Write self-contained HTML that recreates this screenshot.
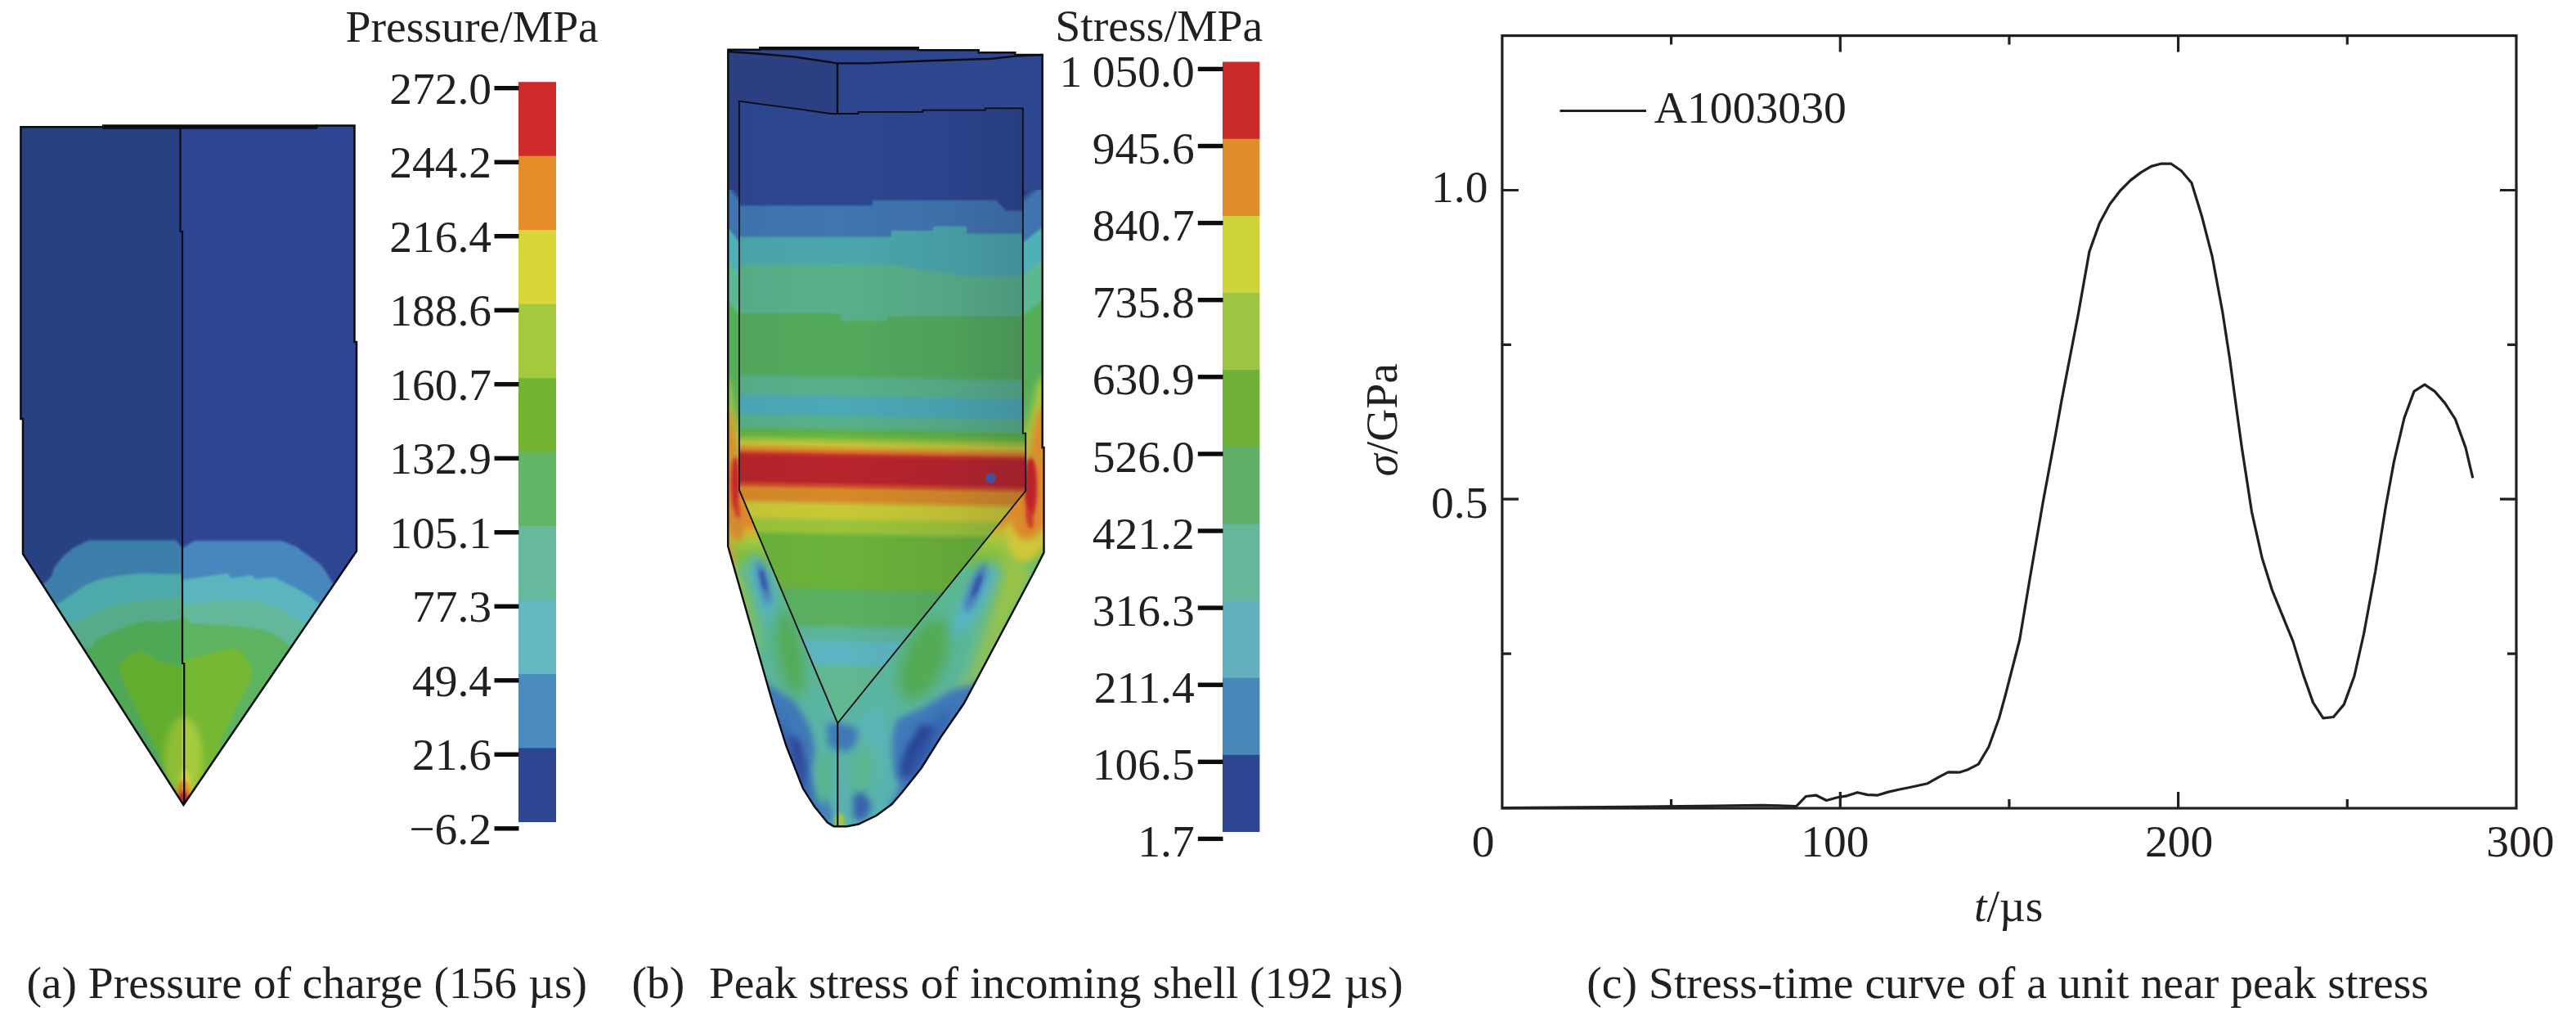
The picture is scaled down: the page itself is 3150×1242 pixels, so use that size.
<!DOCTYPE html>
<html lang="en">
<head>
<meta charset="utf-8">
<title>Pressure and stress simulation figure</title>
<style>
html,body{margin:0;padding:0;background:#fff;}
body{width:3150px;height:1242px;overflow:hidden;}
svg{display:block;position:absolute;left:0;top:0;}
text{font-family:"Liberation Serif",serif;font-size:55.5px;fill:#231f20;}
.it{font-style:italic;}
</style>
</head>
<body>
<svg width="3150" height="1242" viewBox="0 0 3150 1242">
<rect x="0" y="0" width="3150" height="1242" fill="#ffffff"/>
<defs>
<clipPath id="clipA"><polygon points="25.4,155.3 387.5,155.3 387.5,153.4 433.5,153.4 433.5,418.0 436.0,418.0 436.0,673.7 224.4,984.0 28.0,677.2 28.0,512.0 25.4,512.0"/></clipPath>
<clipPath id="clipAL"><rect x="0" y="140" width="222" height="860"/></clipPath>
<clipPath id="clipAR"><rect x="222" y="140" width="240" height="860"/></clipPath>
<filter id="blA1" x="-20%" y="-20%" width="140%" height="140%"><feGaussianBlur stdDeviation="1.6"/></filter>
<filter id="blA3" x="-50%" y="-50%" width="200%" height="200%"><feGaussianBlur stdDeviation="4"/></filter>
<filter id="blA2" x="-50%" y="-50%" width="200%" height="200%"><feGaussianBlur stdDeviation="2.2"/></filter>
</defs>
<g id="figA">
<g clip-path="url(#clipA)">
<g clip-path="url(#clipAR)">
<rect x="0" y="140" width="460" height="860" fill="#2e4592"/>
<g filter="url(#blA1)">
<polygon points="53.8,713.4 63.4,703.8 66.0,694.0 78.0,679.0 90.9,669.0 108.6,660.4 214.9,660.4 221.0,667.0 223.0,670.0 237.7,661.0 344.0,661.0 361.7,668.0 380.0,681.0 392.0,690.0 398.9,699.6 407.1,713.4 437.1,713.4 437.1,1000.0 23.8,1000.0 23.8,713.4" fill="#4687be"/>
<polygon points="72.4,738.0 85.5,728.0 106.0,714.8 122.7,707.9 144.7,703.8 171.0,701.0 221.0,702.0 223.0,709.0 278.5,701.0 282.0,707.0 307.9,703.0 312.0,707.9 335.5,705.5 345.1,710.7 358.9,717.6 378.2,728.6 389.2,738.0 419.2,738.0 419.2,1000.0 42.4,1000.0 42.4,738.0" fill="#5ab5bf"/>
<polygon points="86.9,762.5 102.0,754.8 122.7,745.0 150.0,738.0 177.8,734.0 221.0,728.6 223.0,739.0 273.0,734.0 303.8,734.0 324.4,736.9 345.1,745.1 358.9,753.4 372.7,762.5 402.7,762.5 402.7,1000.0 56.9,1000.0 56.9,762.5" fill="#64b79a"/>
<polygon points="110.3,792.0 117.2,782.3 136.5,772.7 157.0,764.4 177.8,758.9 197.0,760.0 221.0,757.0 223.0,750.0 232.4,762.0 273.0,764.0 303.8,767.2 321.7,769.9 335.5,775.4 345.1,782.3 354.8,790.0 384.8,790.0 384.8,1000.0 80.3,1000.0 80.3,792.0" fill="#5db360"/>
<polygon points="192.5,918.0 174.8,884.6 159.0,851.0 149.2,829.5 145.0,812.0 158.0,802.0 172.3,795.9 186.0,802.0 197.0,810.0 222.0,815.0 224.0,806.5 255.4,799.4 285.5,792.0 298.0,800.0 305.0,810.0 308.7,819.7 304.7,835.4 289.0,865.0 281.0,882.7 273.2,898.4 267.3,918.0 224.4,990.0" fill="#74b832"/>
</g>
<ellipse cx="224.5" cy="928" rx="23" ry="52" fill="#a6ca3c" filter="url(#blA3)"/>
<ellipse cx="225.5" cy="960" rx="8.5" ry="20" fill="#cfd03a" filter="url(#blA2)"/>
<ellipse cx="224.5" cy="969" rx="8.5" ry="15" fill="#e38a2a" filter="url(#blA2)"/>
<ellipse cx="224.5" cy="978" rx="6" ry="11" fill="#c4232a" filter="url(#blA2)"/>
</g>
<g clip-path="url(#clipAL)">
<rect x="0" y="140" width="460" height="860" fill="#284183"/>
<g filter="url(#blA1)">
<polygon points="53.8,713.4 63.4,703.8 66.0,694.0 78.0,679.0 90.9,669.0 108.6,660.4 214.9,660.4 221.0,667.0 223.0,670.0 237.7,661.0 344.0,661.0 361.7,668.0 380.0,681.0 392.0,690.0 398.9,699.6 407.1,713.4 437.1,713.4 437.1,1000.0 23.8,1000.0 23.8,713.4" fill="#3c7faa"/>
<polygon points="72.4,738.0 85.5,728.0 106.0,714.8 122.7,707.9 144.7,703.8 171.0,701.0 221.0,702.0 223.0,709.0 278.5,701.0 282.0,707.0 307.9,703.0 312.0,707.9 335.5,705.5 345.1,710.7 358.9,717.6 378.2,728.6 389.2,738.0 419.2,738.0 419.2,1000.0 42.4,1000.0 42.4,738.0" fill="#4daaab"/>
<polygon points="86.9,762.5 102.0,754.8 122.7,745.0 150.0,738.0 177.8,734.0 221.0,728.6 223.0,739.0 273.0,734.0 303.8,734.0 324.4,736.9 345.1,745.1 358.9,753.4 372.7,762.5 402.7,762.5 402.7,1000.0 56.9,1000.0 56.9,762.5" fill="#56ac8a"/>
<polygon points="110.3,792.0 117.2,782.3 136.5,772.7 157.0,764.4 177.8,758.9 197.0,760.0 221.0,757.0 223.0,750.0 232.4,762.0 273.0,764.0 303.8,767.2 321.7,769.9 335.5,775.4 345.1,782.3 354.8,790.0 384.8,790.0 384.8,1000.0 80.3,1000.0 80.3,792.0" fill="#50a856"/>
<polygon points="192.5,918.0 174.8,884.6 159.0,851.0 149.2,829.5 145.0,812.0 158.0,802.0 172.3,795.9 186.0,802.0 197.0,810.0 222.0,815.0 224.0,806.5 255.4,799.4 285.5,792.0 298.0,800.0 305.0,810.0 308.7,819.7 304.7,835.4 289.0,865.0 281.0,882.7 273.2,898.4 267.3,918.0 224.4,990.0" fill="#64ad2d"/>
</g>
<ellipse cx="224.5" cy="928" rx="23" ry="52" fill="#8fbe36" filter="url(#blA3)"/>
<ellipse cx="225.5" cy="960" rx="8.5" ry="20" fill="#b2c434" filter="url(#blA2)"/>
<ellipse cx="224.5" cy="969" rx="8.5" ry="15" fill="#c38226" filter="url(#blA2)"/>
<ellipse cx="224.5" cy="978" rx="6" ry="11" fill="#a92126" filter="url(#blA2)"/>
</g>
</g>
<polygon points="25.4,155.3 387.5,155.3 387.5,153.4 433.5,153.4 433.5,418.0 436.0,418.0 436.0,673.7 224.4,984.0 28.0,677.2 28.0,512.0 25.4,512.0" fill="none" stroke="#0b0b12" stroke-width="2.5" stroke-linejoin="miter"/>
<path d="M125 155H388" stroke="#0b0b12" stroke-width="5.4" fill="none"/>
<path d="M220.5 154V283H223V811H225.2V983" stroke="#0b0b12" stroke-width="2.2" fill="none"/>
</g>
<defs>
<clipPath id="clipB"><polygon points="890.3,60.7 929.3,60.7 929.3,58.3 1122.7,58.3 1122.7,61.2 1196.7,61.2 1196.7,64.2 1241.3,64.2 1241.3,67.0 1274.7,67.0 1274.7,547.0 1276.5,547.0 1276.5,675.5 1264.0,700.0 1178.7,860.0 1150.4,901.0 1126.8,938.7 1103.2,968.6 1090.6,983.0 1071.7,997.0 1049.6,1007.5 1035.5,1010.3 1019.7,1010.3 1011.9,1005.6 996.0,986.0 982.0,963.9 961.5,912.0 945.0,860.0 890.2,667.8"/></clipPath>
<clipPath id="clipBin"><polygon points="903.9,123.6 929.3,127.2 975.5,133.1 1015.3,139.0 1049.5,139.0 1049.5,136.8 1128.3,136.8 1128.3,134.7 1204.7,134.7 1204.7,132.3 1250.8,132.3 1250.8,529.6 1254.2,529.6 1254.2,600.0 1024.3,884.0 903.9,598.7"/></clipPath>
<linearGradient id="gBody" gradientUnits="userSpaceOnUse" x1="1079" y1="120" x2="1064.22" y2="889.72">
<stop offset="0.0000" stop-color="#2c4690"/><stop offset="0.4156" stop-color="#2c4690"/><stop offset="0.4156" stop-color="#52aa5c"/><stop offset="0.4390" stop-color="#52aa5c"/><stop offset="0.4481" stop-color="#58b08a"/><stop offset="0.4701" stop-color="#58b08a"/><stop offset="0.4779" stop-color="#4ba9b5"/><stop offset="0.5026" stop-color="#4ba9b5"/><stop offset="0.5104" stop-color="#58b08a"/><stop offset="0.5234" stop-color="#58b08a"/><stop offset="0.5312" stop-color="#5bb04a"/><stop offset="0.5390" stop-color="#6fb63e"/><stop offset="0.5455" stop-color="#9cc23c"/><stop offset="0.5519" stop-color="#c4c438"/><stop offset="0.5584" stop-color="#d99a2e"/><stop offset="0.5636" stop-color="#d4702a"/><stop offset="0.5688" stop-color="#c4302a"/><stop offset="0.5740" stop-color="#b8242c"/><stop offset="0.6104" stop-color="#b8242c"/><stop offset="0.6169" stop-color="#cc4a2a"/><stop offset="0.6234" stop-color="#d68a28"/><stop offset="0.6390" stop-color="#d68a28"/><stop offset="0.6494" stop-color="#c9c935"/><stop offset="0.6649" stop-color="#c9c935"/><stop offset="0.6753" stop-color="#9cc43a"/><stop offset="0.6883" stop-color="#9cc43a"/><stop offset="0.6987" stop-color="#6bb23a"/><stop offset="0.7766" stop-color="#6bb23a"/><stop offset="0.7857" stop-color="#5ab060"/><stop offset="0.8351" stop-color="#5ab060"/><stop offset="0.8455" stop-color="#5cb59a"/><stop offset="0.8584" stop-color="#5cb59a"/><stop offset="0.8675" stop-color="#5cb5c0"/><stop offset="0.8974" stop-color="#5cb5c0"/><stop offset="0.9078" stop-color="#62b890"/><stop offset="1.0000" stop-color="#62b890"/>
</linearGradient>
<linearGradient id="gShell" gradientUnits="userSpaceOnUse" x1="1079" y1="55" x2="1079.00" y2="1020.00">
<stop offset="0.0000" stop-color="#2c4285"/><stop offset="0.1813" stop-color="#2c4285"/><stop offset="0.1917" stop-color="#3f74b0"/><stop offset="0.2373" stop-color="#3f74b0"/><stop offset="0.2435" stop-color="#4fb0b8"/><stop offset="0.2788" stop-color="#4fb0b8"/><stop offset="0.2850" stop-color="#5cb890"/><stop offset="0.3285" stop-color="#5cb890"/><stop offset="0.3368" stop-color="#55ad58"/><stop offset="0.4301" stop-color="#55ad58"/><stop offset="0.4611" stop-color="#60b060"/><stop offset="0.4870" stop-color="#8fc040"/><stop offset="0.5026" stop-color="#c8b838"/><stop offset="0.5130" stop-color="#dc8a2c"/><stop offset="0.6062" stop-color="#dc8a2c"/><stop offset="0.6166" stop-color="#d8b030"/><stop offset="0.6269" stop-color="#a8c83c"/><stop offset="0.6477" stop-color="#7cbc44"/><stop offset="0.6684" stop-color="#5cb890"/><stop offset="1.0000" stop-color="#58b2b4"/>
</linearGradient>
<linearGradient id="gShellL" gradientUnits="userSpaceOnUse" x1="897" y1="55" x2="428.83" y2="420.77">
<stop offset="0.0000" stop-color="#2c4285"/><stop offset="0.1813" stop-color="#2c4285"/><stop offset="0.1917" stop-color="#3f74b0"/><stop offset="0.2373" stop-color="#3f74b0"/><stop offset="0.2435" stop-color="#4fb0b8"/><stop offset="0.2788" stop-color="#4fb0b8"/><stop offset="0.2850" stop-color="#5cb890"/><stop offset="0.3285" stop-color="#5cb890"/><stop offset="0.3368" stop-color="#55ad58"/><stop offset="0.4301" stop-color="#55ad58"/><stop offset="0.4611" stop-color="#60b060"/><stop offset="0.4870" stop-color="#8fc040"/><stop offset="0.5026" stop-color="#c8b838"/><stop offset="0.5130" stop-color="#dc8a2c"/><stop offset="0.6062" stop-color="#dc8a2c"/><stop offset="0.6166" stop-color="#d8b030"/><stop offset="0.6269" stop-color="#a8c83c"/><stop offset="0.6477" stop-color="#7cbc44"/><stop offset="0.6684" stop-color="#5cb890"/><stop offset="1.0000" stop-color="#58b2b4"/>
</linearGradient>
<linearGradient id="gShellR" gradientUnits="userSpaceOnUse" x1="1263" y1="55" x2="1731.17" y2="654.23">
<stop offset="0.0000" stop-color="#2c4285"/><stop offset="0.1813" stop-color="#2c4285"/><stop offset="0.1917" stop-color="#3f74b0"/><stop offset="0.2373" stop-color="#3f74b0"/><stop offset="0.2435" stop-color="#4fb0b8"/><stop offset="0.2788" stop-color="#4fb0b8"/><stop offset="0.2850" stop-color="#5cb890"/><stop offset="0.3285" stop-color="#5cb890"/><stop offset="0.3368" stop-color="#55ad58"/><stop offset="0.4301" stop-color="#55ad58"/><stop offset="0.4611" stop-color="#60b060"/><stop offset="0.4870" stop-color="#8fc040"/><stop offset="0.5026" stop-color="#c8b838"/><stop offset="0.5130" stop-color="#dc8a2c"/><stop offset="0.6062" stop-color="#dc8a2c"/><stop offset="0.6166" stop-color="#d8b030"/><stop offset="0.6269" stop-color="#a8c83c"/><stop offset="0.6477" stop-color="#7cbc44"/><stop offset="0.6684" stop-color="#5cb890"/><stop offset="1.0000" stop-color="#58b2b4"/>
</linearGradient>
<linearGradient id="gShade" gradientUnits="userSpaceOnUse" x1="904" y1="0" x2="1254" y2="0"><stop offset="0" stop-color="#101030" stop-opacity="0.03"/><stop offset="0.35" stop-color="#101030" stop-opacity="0"/><stop offset="0.75" stop-color="#101030" stop-opacity="0.07"/><stop offset="1" stop-color="#101030" stop-opacity="0.16"/></linearGradient>
<filter id="blB1" x="-60%" y="-60%" width="220%" height="220%"><feGaussianBlur stdDeviation="1.2"/></filter>
<filter id="blB2" x="-60%" y="-60%" width="220%" height="220%"><feGaussianBlur stdDeviation="2"/></filter>
<filter id="blB4" x="-60%" y="-60%" width="220%" height="220%"><feGaussianBlur stdDeviation="4"/></filter>
<filter id="blB6" x="-60%" y="-60%" width="220%" height="220%"><feGaussianBlur stdDeviation="6"/></filter>
<filter id="blB9" x="-60%" y="-60%" width="220%" height="220%"><feGaussianBlur stdDeviation="9"/></filter>
<filter id="blB14" x="-60%" y="-60%" width="220%" height="220%"><feGaussianBlur stdDeviation="14"/></filter>
</defs>
<g id="figB">
<g clip-path="url(#clipB)">
<rect x="880" y="50" width="410" height="970" fill="url(#gShell)"/>
<rect x="880" y="140" width="25" height="512" fill="url(#gShellL)"/>
<rect x="1249" y="140" width="40" height="545" fill="url(#gShellR)"/>
<polygon points="885.0,50.0 1285.0,50.0 1274.7,67.0 1241.0,68.6 1212.6,71.8 1136.2,74.2 1059.8,77.4 1024.0,77.4 1013.7,75.8 970.7,69.4 926.0,65.5 890.3,63.0" fill="#2d4690"/>
<polygon points="890.3,63.0 926.0,65.5 970.7,69.4 1013.7,75.8 1024.0,77.4 1024.0,139.5 1015.3,139.0 975.5,133.1 929.3,127.2 903.9,123.6 903.9,232.0 890.0,232.0" fill="#2c3f80"/>
<polygon points="1024.0,77.4 1059.8,77.4 1136.2,74.2 1212.6,71.8 1241.0,68.6 1274.7,67.0 1276.0,232.0 1250.8,232.0 1250.8,132.3 1204.7,132.3 1204.7,134.7 1128.3,134.7 1128.3,136.8 1049.5,136.8 1049.5,139.0 1015.3,139.0 1024.0,139.5" fill="#2d4690"/>
<g id="shellPatches">
<ellipse cx="905" cy="745" rx="12" ry="60" transform="rotate(-16 905 745)" fill="#8cc048" opacity="1" filter="url(#blB9)"/>
<ellipse cx="893" cy="705" rx="7" ry="45" transform="rotate(-16 893 705)" fill="#b4c83c" opacity="1" filter="url(#blB6)"/>
<ellipse cx="891" cy="676" rx="6" ry="20" transform="rotate(-10 891 676)" fill="#d89a30" opacity="1" filter="url(#blB4)"/>
<ellipse cx="936" cy="726" rx="10" ry="52" transform="rotate(-18 936 726)" fill="#58b4c4" opacity="1" filter="url(#blB6)"/>
<ellipse cx="934" cy="713" rx="5.5" ry="28" transform="rotate(-14 934 713)" fill="#4576bc" opacity="1" filter="url(#blB4)"/>
<ellipse cx="933.5" cy="709" rx="2.6" ry="14" transform="rotate(-14 933.5 709)" fill="#3450a4" opacity="1" filter="url(#blB2)"/>
<ellipse cx="966" cy="798" rx="15" ry="56" transform="rotate(-10 966 798)" fill="#52aa52" opacity="1" filter="url(#blB9)"/>
<polygon points="925.0,830.0 938.5,837.0 951.0,844.0 972.0,858.0 990.0,887.0 997.0,915.0 993.0,943.0 1000.0,972.0 1011.0,997.0 1016.0,1015.0 940.0,1015.0" fill="#3f78b8" opacity="1" filter="url(#blB4)"/>
<polygon points="962.0,896.0 979.0,906.0 986.0,936.0 984.0,958.0 978.0,962.0 970.0,936.0" fill="#2e469a" opacity="1" filter="url(#blB4)"/>
<polygon points="940.0,870.0 955.0,880.0 975.0,930.0 990.0,975.0 975.0,975.0" fill="#325aa8" opacity="0.7" filter="url(#blB6)"/>
<polygon points="1280.0,452.0 1280.0,560.0 1254.0,560.0 1257.0,530.0 1262.0,500.0 1268.0,470.0" fill="#a8c83c" opacity="1" filter="url(#blB4)"/>
<polygon points="1280.0,490.0 1280.0,560.0 1258.0,560.0 1262.0,535.0 1268.0,505.0" fill="#dc8a2c" opacity="1" filter="url(#blB4)"/>
<polygon points="886.0,452.0 886.0,560.0 906.0,560.0 902.0,530.0 897.0,500.0 893.0,470.0" fill="#a8c83c" opacity="1" filter="url(#blB4)"/>
<polygon points="886.0,495.0 886.0,560.0 903.0,560.0 899.0,535.0 894.0,505.0" fill="#dc8a2c" opacity="1" filter="url(#blB4)"/>
<ellipse cx="899" cy="642" rx="9" ry="20" transform="rotate(-14 899 642)" fill="#d08a30" opacity="1" filter="url(#blB4)"/>
<ellipse cx="899" cy="590" rx="5" ry="32" transform="rotate(0 899 590)" fill="#c4282c" opacity="1" filter="url(#blB2)"/>
<ellipse cx="901" cy="622" rx="3.5" ry="12" transform="rotate(-10 901 622)" fill="#c83a2c" opacity="1" filter="url(#blB2)"/>
<polygon points="1266.0,700.0 1248.0,735.0 1228.0,775.0 1204.0,822.0 1184.0,860.0 1172.0,856.0 1190.0,815.0 1208.0,765.0 1226.0,700.0 1222.0,655.0 1236.0,640.0 1250.0,690.0" fill="#9cc444" opacity="1" filter="url(#blB9)"/>
<polygon points="1280.0,640.0 1280.0,664.0 1266.0,682.0 1250.0,688.0 1238.0,680.0 1232.0,664.0 1230.0,646.0 1238.0,636.0 1252.0,660.0 1266.0,656.0" fill="#cfc838" opacity="1" filter="url(#blB4)"/>
<polygon points="1280.0,560.0 1280.0,640.0 1266.0,656.0 1252.0,660.0 1240.0,650.0 1238.0,636.0 1250.0,626.0 1262.0,636.0 1266.0,600.0 1268.0,560.0" fill="#dc8a2c" opacity="1" filter="url(#blB4)"/>
<ellipse cx="1260.5" cy="596" rx="7.5" ry="37" transform="rotate(0 1260.5 596)" fill="#c4282c" opacity="1" filter="url(#blB2)"/>
<ellipse cx="1260" cy="592" rx="4.5" ry="28" transform="rotate(0 1260 592)" fill="#b8242c" opacity="1" filter="url(#blB2)"/>
<ellipse cx="1259" cy="635" rx="4" ry="12" transform="rotate(-10 1259 635)" fill="#c83a2c" opacity="1" filter="url(#blB2)"/>
<ellipse cx="1188" cy="738" rx="12" ry="54" transform="rotate(32 1188 738)" fill="#58b4c4" opacity="1" filter="url(#blB6)"/>
<ellipse cx="1193" cy="718" rx="7" ry="32" transform="rotate(22 1193 718)" fill="#4576bc" opacity="1" filter="url(#blB4)"/>
<ellipse cx="1194.5" cy="716" rx="3" ry="15" transform="rotate(22 1194.5 716)" fill="#3450a4" opacity="1" filter="url(#blB2)"/>
<ellipse cx="1130" cy="806" rx="26" ry="54" transform="rotate(22 1130 806)" fill="#52aa52" opacity="1" filter="url(#blB9)"/>
<polygon points="1200.0,830.0 1188.0,837.0 1163.5,844.0 1128.0,865.5 1096.0,880.0 1089.0,908.0 1092.6,943.5 1100.0,962.0 1085.0,990.0 1140.0,990.0 1220.0,850.0" fill="#3f78b8" opacity="1" filter="url(#blB4)"/>
<polygon points="1126.0,886.0 1144.0,888.0 1135.0,915.0 1118.0,945.0 1104.0,953.0 1101.0,936.0 1110.0,912.0" fill="#2c4294" opacity="1" filter="url(#blB4)"/>
<polygon points="1150.0,872.0 1165.0,868.0 1130.0,935.0 1110.0,958.0 1112.0,930.0" fill="#325aa8" opacity="0.7" filter="url(#blB6)"/>
<ellipse cx="1066" cy="915" rx="16" ry="48" transform="rotate(4 1066 915)" fill="#5ab5c0" opacity="1" filter="url(#blB9)"/>
<polygon points="1011.0,886.0 1024.0,883.0 1048.0,890.0 1050.0,905.0 1040.0,919.0 1024.0,917.0 1013.0,912.0" fill="#3f78b8" opacity="1" filter="url(#blB4)"/>
<ellipse cx="1008" cy="950" rx="9" ry="32" transform="rotate(0 1008 950)" fill="#5ab58c" opacity="1" filter="url(#blB6)"/>
<ellipse cx="1056" cy="940" rx="14" ry="36" transform="rotate(6 1056 940)" fill="#5cb78a" opacity="1" filter="url(#blB9)"/>
<polygon points="1043.0,972.0 1056.0,968.0 1066.0,985.0 1058.0,1002.0 1044.0,1002.0" fill="#3862b0" opacity="1" filter="url(#blB4)"/>
<ellipse cx="1011" cy="992" rx="5" ry="15" transform="rotate(-14 1011 992)" fill="#3f78b8" opacity="1" filter="url(#blB4)"/>
<ellipse cx="1027" cy="1003" rx="6" ry="9" transform="rotate(0 1027 1003)" fill="#a8c83c" opacity="1" filter="url(#blB2)"/>
</g>
<g clip-path="url(#clipBin)">
<rect x="890" y="110" width="380" height="790" fill="url(#gBody)"/>
<g filter="url(#blB1)">
<polygon points="900.0,251.2 1066.8,251.2 1066.8,244.8 1217.9,244.8 1230.0,257.6 1256.0,257.6 1262.0,257.6 1262.0,456.0 896.0,456.0 896.0,251.2" fill="#3f74b0"/>
<polygon points="900.0,289.6 1089.9,289.6 1089.9,281.9 1141.0,281.9 1141.0,276.8 1182.0,276.8 1182.0,285.7 1256.0,285.7 1262.0,285.7 1262.0,456.0 896.0,456.0 896.0,289.6" fill="#4ba6ac"/>
<polygon points="900.0,322.9 1090.0,322.9 1148.8,333.0 1180.0,338.0 1256.0,338.0 1262.0,338.0 1262.0,456.0 896.0,456.0 896.0,322.9" fill="#58b08a"/>
<polygon points="900.0,383.0 1028.5,383.0 1028.5,392.0 1084.8,392.0 1084.8,386.8 1256.0,386.8 1262.0,386.8 1262.0,456.0 896.0,456.0 896.0,383.0" fill="#52aa5c"/>
</g>
<rect x="890" y="110" width="380" height="790" fill="url(#gShade)"/>
</g>
<circle cx="1211.5" cy="584.6" r="6.3" fill="#3a55a8"/><circle cx="1212" cy="585" r="1.6" fill="#a8283a"/>
</g>
<g fill="none" stroke="#0b0b12" stroke-width="2.6" stroke-linejoin="miter">
<polygon points="890.3,60.7 929.3,60.7 929.3,58.3 1122.7,58.3 1122.7,61.2 1196.7,61.2 1196.7,64.2 1241.3,64.2 1241.3,67.0 1274.7,67.0 1274.7,547.0 1276.5,547.0 1276.5,675.5 1264.0,700.0 1178.7,860.0 1150.4,901.0 1126.8,938.7 1103.2,968.6 1090.6,983.0 1071.7,997.0 1049.6,1007.5 1035.5,1010.3 1019.7,1010.3 1011.9,1005.6 996.0,986.0 982.0,963.9 961.5,912.0 945.0,860.0 890.2,667.8" stroke-width="2.4"/>
<polyline points="890.3,63.0 926.0,65.5 970.7,69.4 1013.7,75.8 1024.0,77.4 1059.8,77.4 1136.2,74.2 1212.6,71.8 1241.0,68.6 1274.7,67.0" stroke-width="2.4"/>
<path d="M1024 77.4V139.5" stroke-width="2.4"/>
<polygon points="903.9,123.6 929.3,127.2 975.5,133.1 1015.3,139.0 1049.5,139.0 1049.5,136.8 1128.3,136.8 1128.3,134.7 1204.7,134.7 1204.7,132.3 1250.8,132.3 1250.8,529.6 1254.2,529.6 1254.2,600.0 1024.3,884.0 903.9,598.7" stroke-width="1.8"/>
<path d="M1024.3 884V1010" stroke-width="2.0"/>
<path d="M929 59.4H1122" stroke-width="3.6"/>
</g>
</g>
<g id="barA">
<text x="422.6" y="50.8" textLength="309.2" lengthAdjust="spacingAndGlyphs">Pressure/MPa</text>
<rect x="634.0" y="100.20" width="46.0" height="91.08" fill="#cf2a2b"/>
<rect x="634.0" y="190.68" width="46.0" height="91.08" fill="#e48e2a"/>
<rect x="634.0" y="281.16" width="46.0" height="91.08" fill="#d9d63a"/>
<rect x="634.0" y="371.64" width="46.0" height="91.08" fill="#a4c83e"/>
<rect x="634.0" y="462.12" width="46.0" height="91.08" fill="#73b532"/>
<rect x="634.0" y="552.60" width="46.0" height="91.08" fill="#62b466"/>
<rect x="634.0" y="643.08" width="46.0" height="91.08" fill="#66b99a"/>
<rect x="634.0" y="733.56" width="46.0" height="91.08" fill="#64b6c1"/>
<rect x="634.0" y="824.04" width="46.0" height="91.08" fill="#4a8bc0"/>
<rect x="634.0" y="914.52" width="46.0" height="90.48" fill="#2e4592"/>
<rect x="604.5" y="105.00" width="30.0" height="5.4" fill="#0d0b0c"/>
<text x="601.0" y="126.7" text-anchor="end">272.0</text>
<rect x="604.5" y="195.51" width="30.0" height="5.4" fill="#0d0b0c"/>
<text x="601.0" y="217.2" text-anchor="end">244.2</text>
<rect x="604.5" y="286.02" width="30.0" height="5.4" fill="#0d0b0c"/>
<text x="601.0" y="307.7" text-anchor="end">216.4</text>
<rect x="604.5" y="376.53" width="30.0" height="5.4" fill="#0d0b0c"/>
<text x="601.0" y="398.2" text-anchor="end">188.6</text>
<rect x="604.5" y="467.04" width="30.0" height="5.4" fill="#0d0b0c"/>
<text x="601.0" y="488.7" text-anchor="end">160.7</text>
<rect x="604.5" y="557.55" width="30.0" height="5.4" fill="#0d0b0c"/>
<text x="601.0" y="579.2" text-anchor="end">132.9</text>
<rect x="604.5" y="648.06" width="30.0" height="5.4" fill="#0d0b0c"/>
<text x="601.0" y="669.8" text-anchor="end">105.1</text>
<rect x="604.5" y="738.57" width="30.0" height="5.4" fill="#0d0b0c"/>
<text x="601.0" y="760.3" text-anchor="end">77.3</text>
<rect x="604.5" y="829.08" width="30.0" height="5.4" fill="#0d0b0c"/>
<text x="601.0" y="850.8" text-anchor="end">49.4</text>
<rect x="604.5" y="919.59" width="30.0" height="5.4" fill="#0d0b0c"/>
<text x="601.0" y="941.3" text-anchor="end">21.6</text>
<rect x="604.5" y="1010.10" width="30.0" height="5.4" fill="#0d0b0c"/>
<text x="601.0" y="1031.8" text-anchor="end">−6.2</text>
</g>
<g id="barB">
<text x="1290.2" y="50.2" textLength="254.2" lengthAdjust="spacingAndGlyphs">Stress/MPa</text>
<rect x="1495.0" y="75.60" width="45.4" height="94.74" fill="#c92a2a"/>
<rect x="1495.0" y="169.74" width="45.4" height="94.74" fill="#df8d2b"/>
<rect x="1495.0" y="263.88" width="45.4" height="94.74" fill="#cfd33a"/>
<rect x="1495.0" y="358.02" width="45.4" height="94.74" fill="#9fc443"/>
<rect x="1495.0" y="452.16" width="45.4" height="94.74" fill="#6fb036"/>
<rect x="1495.0" y="546.30" width="45.4" height="94.74" fill="#60ae66"/>
<rect x="1495.0" y="640.44" width="45.4" height="94.74" fill="#64b799"/>
<rect x="1495.0" y="734.58" width="45.4" height="94.74" fill="#62b0bd"/>
<rect x="1495.0" y="828.72" width="45.4" height="94.74" fill="#4987b9"/>
<rect x="1495.0" y="922.86" width="45.4" height="94.14" fill="#2e4592"/>
<rect x="1464.8" y="81.70" width="30.7" height="5.4" fill="#0d0b0c"/>
<text x="1460.7" y="106.0" text-anchor="end" style="word-spacing:-1.2px">1 050.0</text>
<rect x="1464.8" y="175.80" width="30.7" height="5.4" fill="#0d0b0c"/>
<text x="1460.7" y="200.1" text-anchor="end">945.6</text>
<rect x="1464.8" y="269.90" width="30.7" height="5.4" fill="#0d0b0c"/>
<text x="1460.7" y="294.2" text-anchor="end">840.7</text>
<rect x="1464.8" y="364.00" width="30.7" height="5.4" fill="#0d0b0c"/>
<text x="1460.7" y="388.3" text-anchor="end">735.8</text>
<rect x="1464.8" y="458.10" width="30.7" height="5.4" fill="#0d0b0c"/>
<text x="1460.7" y="482.4" text-anchor="end">630.9</text>
<rect x="1464.8" y="552.20" width="30.7" height="5.4" fill="#0d0b0c"/>
<text x="1460.7" y="576.5" text-anchor="end">526.0</text>
<rect x="1464.8" y="646.30" width="30.7" height="5.4" fill="#0d0b0c"/>
<text x="1460.7" y="670.6" text-anchor="end">421.2</text>
<rect x="1464.8" y="740.40" width="30.7" height="5.4" fill="#0d0b0c"/>
<text x="1460.7" y="764.7" text-anchor="end">316.3</text>
<rect x="1464.8" y="834.50" width="30.7" height="5.4" fill="#0d0b0c"/>
<text x="1460.7" y="858.8" text-anchor="end">211.4</text>
<rect x="1464.8" y="928.60" width="30.7" height="5.4" fill="#0d0b0c"/>
<text x="1460.7" y="952.9" text-anchor="end">106.5</text>
<rect x="1464.8" y="1022.70" width="30.7" height="5.4" fill="#0d0b0c"/>
<text x="1460.7" y="1047.0" text-anchor="end">1.7</text>
</g>
<g id="chart" fill="none" stroke="#231f20" stroke-width="3.2">
<rect x="1836.9" y="43.6" width="1240.1" height="944.4"/>
<path d="M2043.6 988.0v-11.0 M2043.6 43.6v11.0 M2250.3 988.0v-20.0 M2250.3 43.6v20.0 M2456.9 988.0v-11.0 M2456.9 43.6v11.0 M2663.6 988.0v-20.0 M2663.6 43.6v20.0 M2870.3 988.0v-11.0 M2870.3 43.6v11.0 M1836.9 799.1h11.0 M3077.0 799.1h-11.0 M1836.9 610.2h20.0 M3077.0 610.2h-20.0 M1836.9 421.4h11.0 M3077.0 421.4h-11.0 M1836.9 232.5h20.0 M3077.0 232.5h-20.0 "/>
<path d="M1907.5 135.6H2013" stroke-width="3"/>
<polyline points="1837.0,987.6 1900.0,987.2 1990.0,986.4 2080.0,985.4 2155.0,984.3 2175.0,984.9 2196.6,985.6 2208.3,973.5 2220.9,972.2 2233.5,978.5 2246.0,975.0 2258.7,972.8 2271.3,968.7 2283.9,971.6 2295.5,972.2 2309.0,968.1 2321.7,965.3 2339.0,961.8 2357.2,957.7 2370.5,950.2 2382.4,943.9 2395.7,944.2 2406.7,940.7 2419.3,934.1 2431.9,913.0 2444.5,878.0 2452.2,850.0 2469.7,782.0 2482.3,706.4 2498.0,615.0 2513.8,530.0 2520.9,490.0 2541.3,384.2 2554.9,307.6 2567.5,272.4 2580.0,249.4 2592.7,233.0 2605.3,220.4 2617.9,210.9 2630.5,203.4 2642.1,200.2 2655.0,200.2 2667.3,208.7 2679.9,223.5 2692.5,264.5 2705.1,313.3 2717.7,381.0 2726.8,440.0 2733.5,490.0 2740.9,544.0 2753.5,625.8 2766.1,681.9 2778.7,722.2 2803.9,783.9 2816.5,824.9 2828.5,858.9 2840.8,877.8 2853.4,876.5 2866.3,861.1 2878.9,826.5 2890.6,774.5 2904.7,698.3 2917.3,619.5 2927.4,564.4 2940.0,510.9 2952.0,478.4 2964.9,470.2 2977.2,478.4 2989.8,492.9 3002.4,512.4 3015.0,547.1 3023.8,584.3" stroke-width="3.2" stroke-linejoin="round" stroke-linecap="butt"/>
</g>
<g id="chartText">
<text x="2022.8" y="149.8" textLength="235" lengthAdjust="spacingAndGlyphs">A1003030</text>
<text x="1819.4" y="247.4" text-anchor="end">1.0</text>
<text x="1819.4" y="633.3" text-anchor="end">0.5</text>
<text x="1799.7" y="1046.9">0</text>
<text x="2202.3" y="1046.9">100</text>
<text x="2622.9" y="1046.9">200</text>
<text x="3040.3" y="1046.9">300</text>
<text x="2414" y="1125.6"><tspan class="it">t</tspan>/µs</text>
<text transform="translate(1707.9 582.5) rotate(-90)"><tspan class="it">σ</tspan>/GPa</text>
</g>
<g id="captions">
<text x="32.4" y="1219.6" textLength="685.6" lengthAdjust="spacingAndGlyphs">(a) Pressure of charge (156 µs)</text>
<text x="772.6" y="1219.9">(b)</text>
<text x="866.9" y="1219.9" textLength="848.8" lengthAdjust="spacingAndGlyphs">Peak stress of incoming shell (192 µs)</text>
<text x="1940.2" y="1219.9" textLength="1029.8" lengthAdjust="spacingAndGlyphs">(c) Stress-time curve of a unit near peak stress</text>
</g>
</svg>
</body>
</html>
